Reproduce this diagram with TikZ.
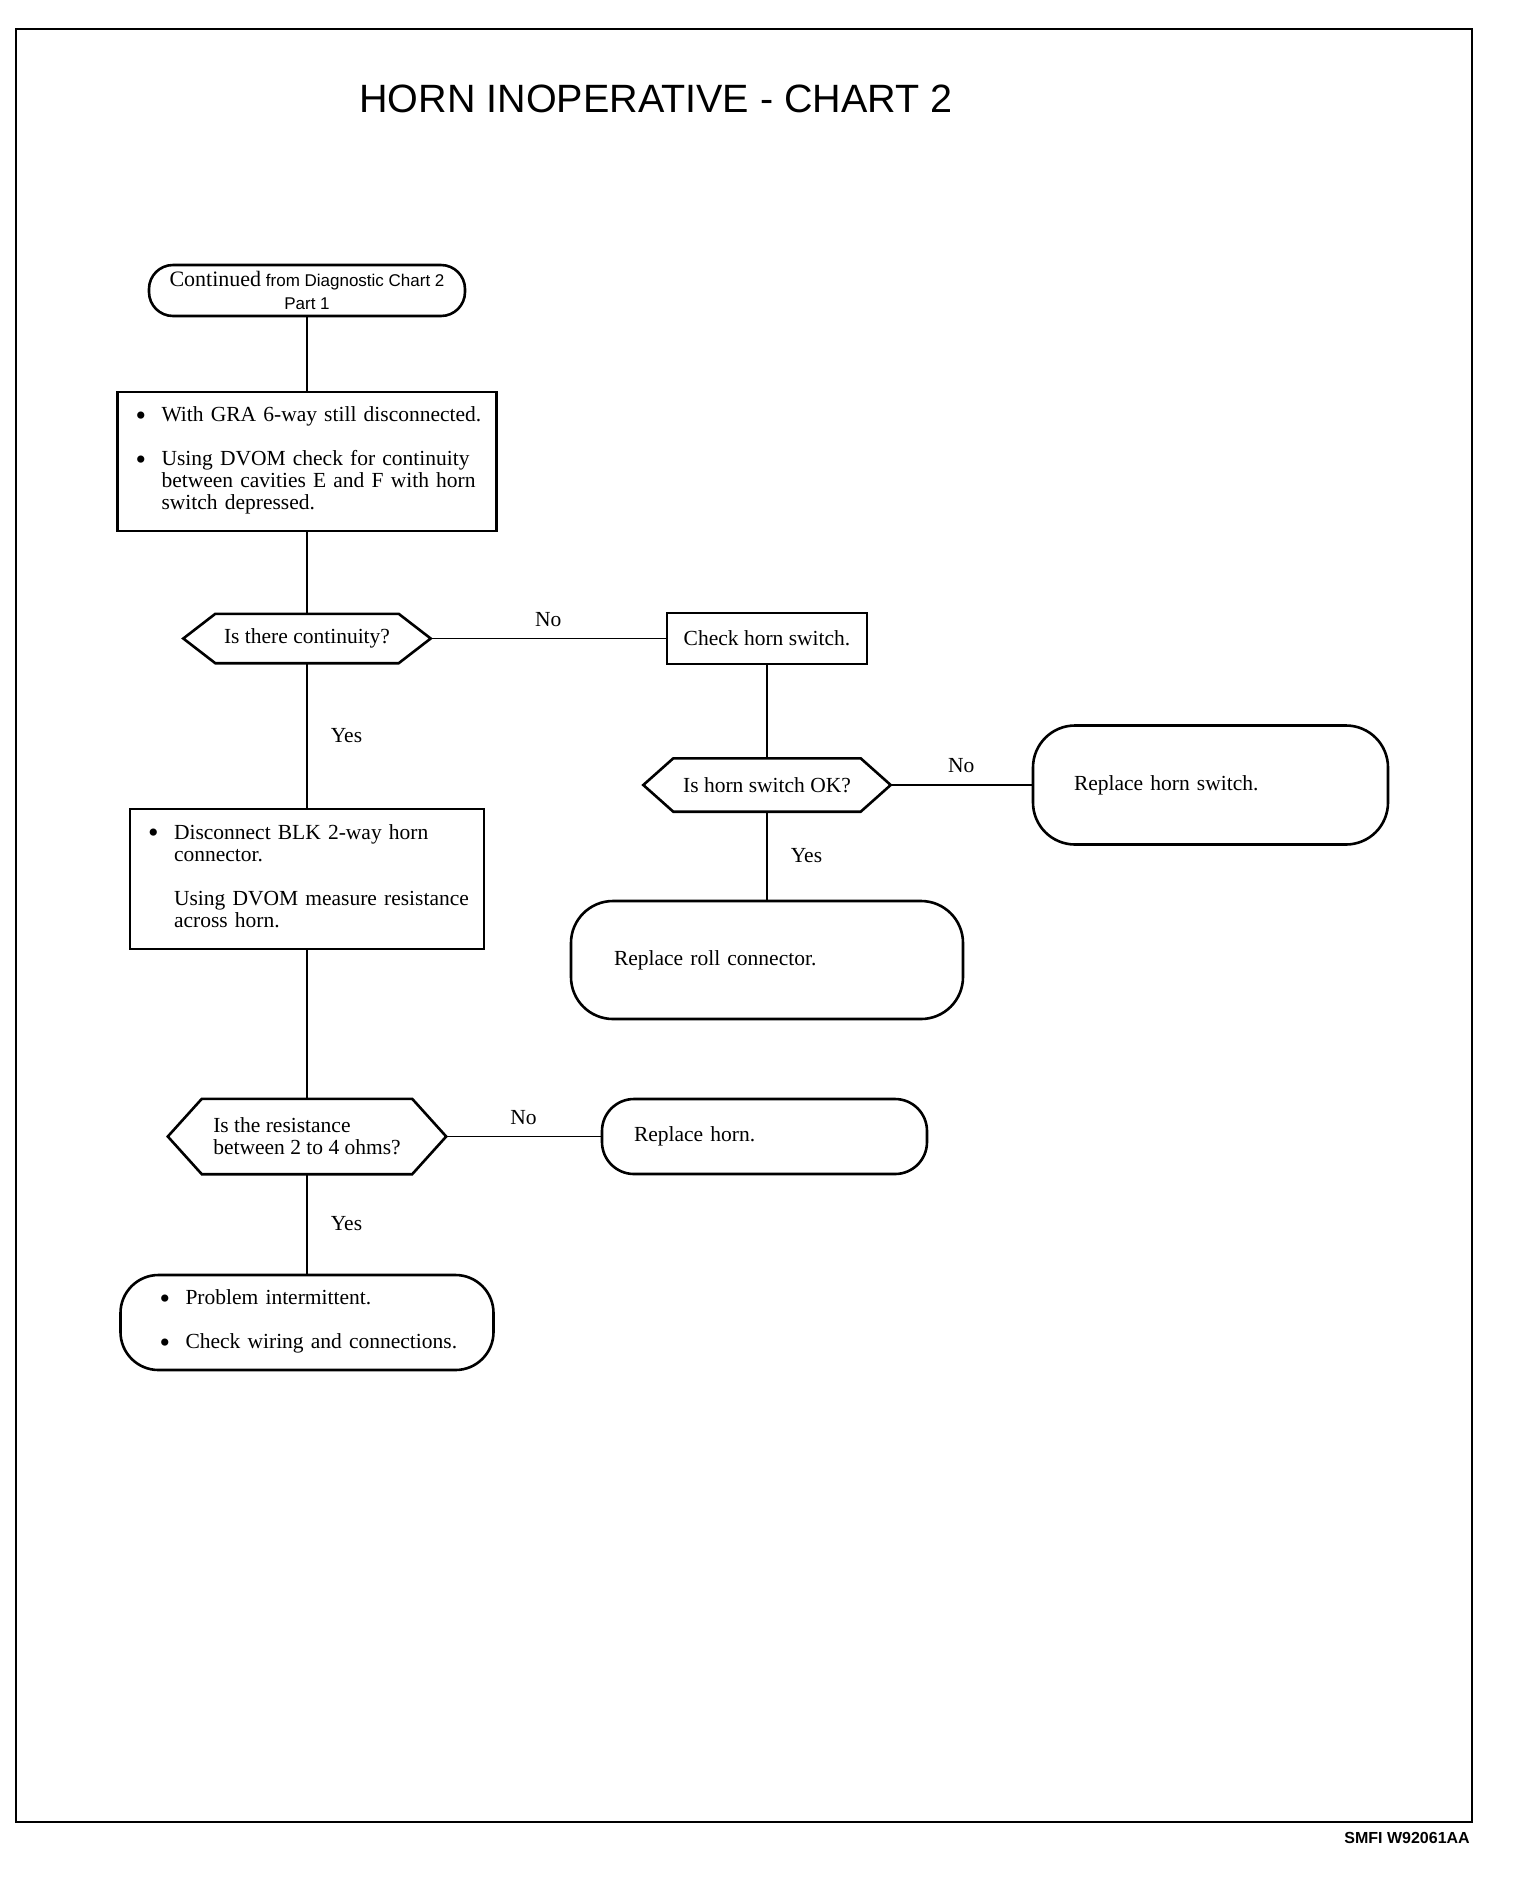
\documentclass[tikz,border=0pt]{standalone}
\usepackage{fontspec}
\setmainfont{Liberation Serif}
\setsansfont{Liberation Sans}
\newcommand\bodyfont{\fontsize{21.5}{22}\selectfont}
\newcommand\bigbul{\raisebox{-3.5pt}{\fontsize{30}{22}\selectfont\textbullet}}
\tikzset{
  shapeline/.style={draw, line width=2.6pt},
  stepbox/.style={shapeline, rectangle, inner sep=0pt, align=left, font=\bodyfont},
  termbox/.style={shapeline, rectangle, inner sep=0pt, inner ysep=0pt, align=left, font=\bodyfont},
  decision/.style={rectangle, inner sep=0pt, align=left, font=\bodyfont},
  hexa/.style={line width=2.6pt, line join=miter},
  conn/.style={line width=1.7pt},
  lbl/.style={font=\bodyfont, inner sep=0pt},
}
\begin{document}
\begin{tikzpicture}[x=1pt, y=-1pt]
\useasboundingbox (0,0) rectangle (1520,1880);
\draw[line width=1.8pt] (16,29) rectangle (1472,1822);

\node[font=\sffamily\fontsize{39.5}{44}\selectfont, inner sep=0pt] (title) at (656,99) {HORN INOPERATIVE - CHART 2};

% start terminal
\node[shapeline, rounded corners=24pt, minimum width=316pt, minimum height=51pt, inner sep=0pt, align=center,
      font=\sffamily\fontsize{17}{23}\selectfont] (start) at (307,290.5)
  {{\rmfamily\fontsize{22}{23}\selectfont Continued} from Diagnostic Chart 2\\Part 1};

% box 1
\node[stepbox, minimum height=139pt, text width=343pt, inner xsep=18pt] (b1) at (307,461.5)
  {\begin{tabular}{@{}p{26pt}@{}l@{}}
   \bigbul & With GRA 6-way still disconnected.\\[22pt]
   \bigbul & Using DVOM check for continuity\\
               & between cavities E and F with horn\\
               & switch depressed.
   \end{tabular}};

% decision 1
\node[decision, minimum width=247pt, minimum height=49pt] (d1) at (307,638.5) {Is there continuity?};
\draw[hexa] (d1.west) -- ([xshift=32pt]d1.north west) -- ([xshift=-32pt]d1.north east) -- (d1.east)
  -- ([xshift=-32pt]d1.south east) -- ([xshift=32pt]d1.south west) -- cycle;

% check horn switch
\node[stepbox, minimum width=200pt, minimum height=51pt, align=center] (chk) at (767,638.5) {Check horn switch.};

% decision 2
\node[decision, minimum width=247pt, minimum height=53pt] (d2) at (767,785) {Is horn switch OK?};
\draw[hexa] (d2.west) -- ([xshift=30pt]d2.north west) -- ([xshift=-30pt]d2.north east) -- (d2.east)
  -- ([xshift=-30pt]d2.south east) -- ([xshift=30pt]d2.south west) -- cycle;

% replace horn switch
\node[termbox, rounded corners=42pt, minimum height=119pt, text width=273pt, inner xsep=41pt] (rhs) at (1210.5,785)
  {Replace horn switch.};

% replace roll connector
\node[termbox, rounded corners=42pt, minimum height=118pt, text width=306pt, inner xsep=43pt] (rrc) at (767,960)
  {Replace roll connector.};

% box 2
\node[stepbox, minimum height=140pt, text width=318pt, inner xsep=18pt] (b2) at (307,879)
  {\begin{tabular}{@{}p{26pt}@{}l@{}}
   \bigbul & Disconnect BLK 2-way horn\\
               & connector.\\[22pt]
               & Using DVOM measure resistance\\
               & across horn.
   \end{tabular}};

% decision 3
\node[decision, minimum width=278pt, minimum height=75pt] (d3) at (307,1136.5)
  {Is the resistance\\between 2 to 4 ohms?};
\draw[hexa] (d3.west) -- ([xshift=34pt]d3.north west) -- ([xshift=-34pt]d3.north east) -- (d3.east)
  -- ([xshift=-34pt]d3.south east) -- ([xshift=34pt]d3.south west) -- cycle;

% replace horn
\node[termbox, rounded corners=32pt, minimum height=75pt, text width=261pt, inner xsep=32pt] (rh) at (764.5,1136.5)
  {Replace horn.};

% final terminal
\node[termbox, rounded corners=38pt, minimum height=95pt, text width=295pt, inner xsep=39pt] (fin) at (307,1322.5)
  {\begin{tabular}{@{}p{26pt}@{}l@{}}
   \bigbul & Problem intermittent.\\[22pt]
   \bigbul & Check wiring and connections.
   \end{tabular}};

\node[font=\sffamily\bfseries\fontsize{16}{18}\selectfont, inner sep=0pt, anchor=east] (code) at (1470,1838) {SMFI W92061AA};

% connectors
\draw[conn] (start) -- (b1);
\draw[conn] (b1) -- (d1);
\draw[conn] (d1.east) -- node[lbl, above=11pt] {No} (chk.west);
\draw[conn] (d1) -- node[lbl, right=23pt] {Yes} (b2);
\draw[conn] (chk) -- (d2);
\draw[conn] (d2.east) -- node[lbl, above=11pt] {No} (rhs.west);
\draw[conn] (d2) -- node[lbl, right=23pt] {Yes} (rrc);
\draw[conn] (b2) -- (d3);
\draw[conn] (d3.east) -- node[lbl, above=11pt] {No} (rh.west);
\draw[conn] (d3) -- node[lbl, right=23pt] {Yes} (fin);
\end{tikzpicture}
\end{document}
